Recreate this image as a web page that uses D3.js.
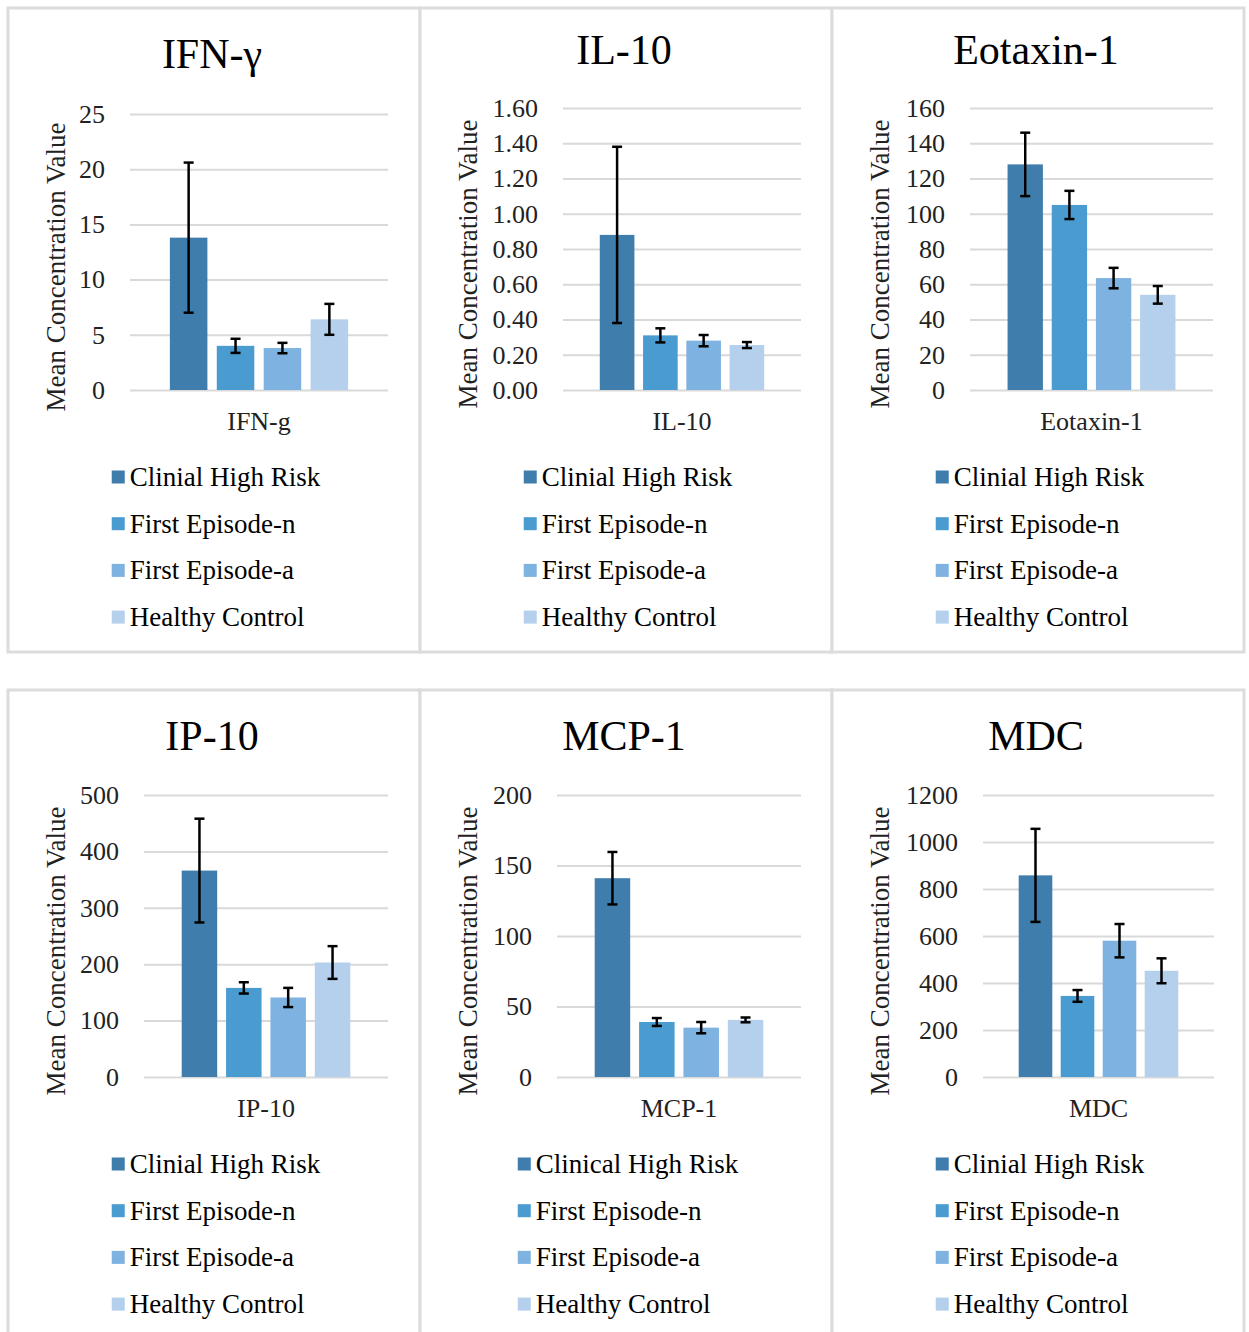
<!DOCTYPE html>
<html>
<head>
<meta charset="utf-8">
<script src="https://d3js.org/d3.v7.min.js"></script>
<style>
  body { margin: 0; background: #fff; }
  text { font-family: "Times New Roman", "Liberation Serif", serif; }
</style>
</head>
<body>
<div id="chart"></div>
<script>
// ---- data ----
var groups = ["Clinial High Risk", "First Episode-n", "First Episode-a", "Healthy Control"];
var groupsMcp = ["Clinical High Risk", "First Episode-n", "First Episode-a", "Healthy Control"];

var titles  = ["IFN-γ", "IL-10", "Eotaxin-1", "IP-10", "MCP-1", "MDC"];
var xLabels = ["IFN-g", "IL-10", "Eotaxin-1", "IP-10", "MCP-1", "MDC"];
var yMax    = [25, 1.6, 160, 500, 200, 1200];
var yStep   = [5, 0.2, 20, 100, 50, 200];

var means = [
  [13.8, 4.0, 3.8, 6.4],
  [0.88, 0.31, 0.28, 0.255],
  [128, 105, 63.5, 54],
  [366, 158, 141, 203],
  [141, 39, 35, 40.5],
  [858, 345, 580, 452]
];
var errs = [
  [6.8, 0.64, 0.47, 1.4],
  [0.50, 0.04, 0.032, 0.017],
  [18, 8, 5.8, 5],
  [92, 10, 17, 29],
  [18.6, 2.8, 4, 1.7],
  [198, 25, 71, 53]
];

// ---- layout ----
var W = 1249, H = 1332;
var colors = ["#3e7dac", "#4a9bd0", "#7eb2e0", "#b4d0ec"];
var panelX = [8, 420, 832], panelY = [8, 690], panelW = 412, panelH = 644;
// plot box for each panel: x0, x1, top, bottom (the panels are not all alike)
var boxes = [
  [130, 388, 114, 390],
  [563, 801, 108, 390],
  [970, 1213, 108, 390],
  [144, 388, 795, 1077],
  [557, 801, 795, 1077],
  [983, 1214, 795, 1077]
];

var svg = d3.select("#chart").append("svg")
  .attr("width", W)
  .attr("height", H);

titles.forEach(function(t, i) {
  var px = panelX[i % 3], py = panelY[Math.floor(i / 3)];
  var b = boxes[i];
  var g = svg.append("g");

  // panel frame
  g.append("rect")
    .attr("x", px).attr("y", py)
    .attr("width", panelW).attr("height", panelH)
    .attr("fill", "#fff")
    .attr("stroke", "#dcdcdc")
    .attr("stroke-width", 3);

  // title
  g.append("text")
    .attr("x", px + 204)
    .attr("y", i == 0 ? py + 60 : (i < 3 ? py + 56 : py + 60))
    .attr("text-anchor", "middle")
    .style("font-size", "42px")
    .attr("fill", "#000")
    .text(t);

  // scales
  var y = d3.scaleLinear().domain([0, yMax[i]]).range([b[3], b[2]]);
  var x = d3.scaleBand().domain(groups).range([b[0], b[1]])
    .paddingInner(0.2).paddingOuter(0.85);

  // y axis + gridlines
  var ticks = d3.range(0, yMax[i] + yStep[i] / 2, yStep[i]);
  var axis = g.append("g")
    .attr("transform", "translate(" + b[0] + ",0)")
    .call(d3.axisLeft(y)
      .tickValues(ticks)
      .tickSize(-(b[1] - b[0]))
      .tickPadding(25)
      .tickFormat(i == 1 ? d3.format(".2f") : d3.format("d")));
  axis.select(".domain").remove();
  axis.selectAll(".tick line").attr("stroke", "#d9d9d9").attr("stroke-width", 2);
  axis.selectAll(".tick text")
    .style("font-size", "26px")
    .style("font-family", "'Times New Roman', 'Liberation Serif', serif")
    .attr("fill", "#222");

  // y axis title
  var ly = (b[2] + b[3]) / 2 + 15;
  g.append("text")
    .attr("transform", "translate(" + (px + 57) + "," + ly + ") rotate(-90)")
    .attr("text-anchor", "middle")
    .style("font-size", "27px")
    .attr("fill", "#222")
    .text("Mean Concentration Value");

  // bars
  g.selectAll(".bar")
    .data(means[i])
    .enter()
    .append("rect")
      .attr("x", function(d, j) { return x(groups[j]); })
      .attr("y", function(d) { return y(d); })
      .attr("width", x.bandwidth())
      .attr("height", function(d) { return y(0) - y(d); })
      .attr("fill", function(d, j) { return colors[j]; });

  // error bars
  var cap = 5;
  var eb = g.selectAll(".err")
    .data(means[i])
    .enter()
    .append("g")
      .attr("stroke", "#000")
      .attr("stroke-width", 2.5);
  eb.append("line")
    .attr("x1", function(d, j) { return x(groups[j]) + x.bandwidth() / 2; })
    .attr("x2", function(d, j) { return x(groups[j]) + x.bandwidth() / 2; })
    .attr("y1", function(d, j) { return y(d + errs[i][j]); })
    .attr("y2", function(d, j) { return y(d - errs[i][j]); });
  [1, -1].forEach(function(s) {
    eb.append("line")
      .attr("x1", function(d, j) { return x(groups[j]) + x.bandwidth() / 2 - cap; })
      .attr("x2", function(d, j) { return x(groups[j]) + x.bandwidth() / 2 + cap; })
      .attr("y1", function(d, j) { return y(d + s * errs[i][j]); })
      .attr("y2", function(d, j) { return y(d + s * errs[i][j]); });
  });

  // category label
  g.append("text")
    .attr("x", (b[0] + b[1]) / 2)
    .attr("y", b[3] + 40)
    .attr("text-anchor", "middle")
    .style("font-size", "26px")
    .attr("fill", "#222")
    .text(xLabels[i]);

  // legend, block centred in the panel
  var names = (i == 4) ? groupsMcp : groups;
  var leg = g.append("g");
  var items = leg.selectAll(".item")
    .data(names)
    .enter()
    .append("g")
      .attr("transform", function(d, j) { return "translate(0," + (b[3] + 87 + j * 46.7) + ")"; });
  items.append("rect")
    .attr("x", 0).attr("y", -6.5)
    .attr("width", 13).attr("height", 13)
    .attr("fill", function(d, j) { return colors[j]; });
  items.append("text")
    .attr("x", 18)
    .attr("y", 9)
    .style("font-size", "27px")
    .attr("fill", "#000")
    .text(function(d) { return d; });
  var maxLen = 0;
  items.selectAll("text").each(function() { maxLen = Math.max(maxLen, this.getComputedTextLength()); });
  var left = px + 208 - (18 + maxLen) / 2;
  leg.attr("transform", "translate(" + left + ",0)");
});
</script>
</body>
</html>
